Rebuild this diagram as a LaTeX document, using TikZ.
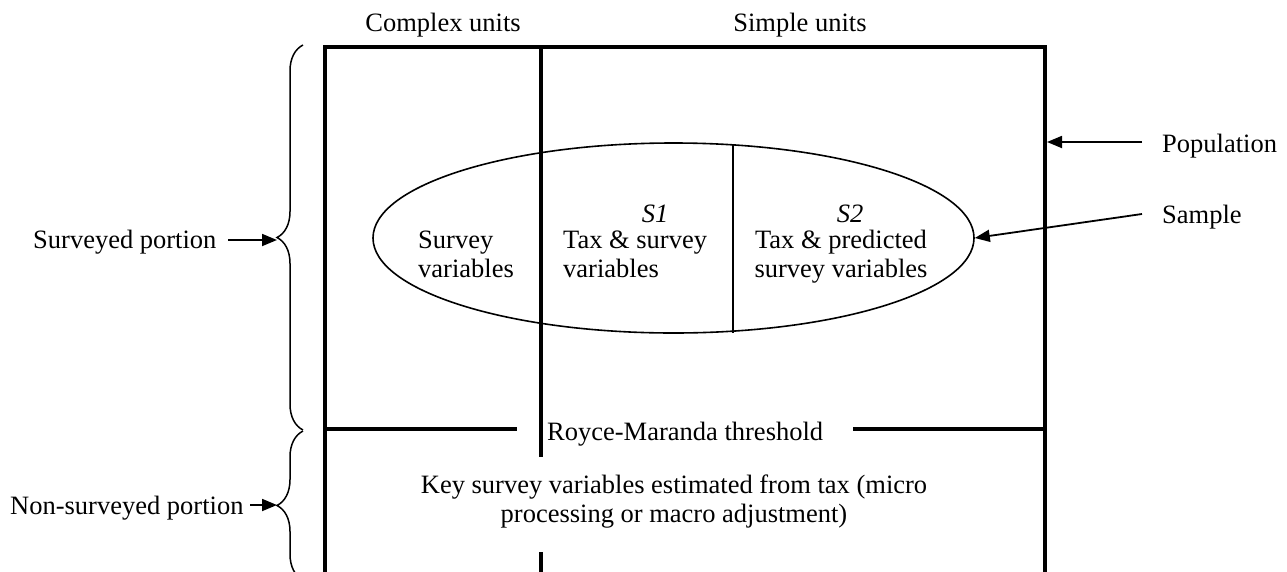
\documentclass[tikz,border=0pt]{standalone}
\usepackage{fontspec}
\setmainfont{Liberation Serif}
\usetikzlibrary{decorations.pathreplacing,arrows.meta,shapes.geometric}
\begin{document}
\begin{tikzpicture}[x=1pt,y=-1pt,
  lbl/.style={inner sep=0pt, font=\fontsize{26.5}{29}\selectfont},
  frameline/.style={line width=4pt},
  arr/.style={line width=1.8pt,-{Triangle[length=15pt,width=12pt]}},
  br/.style={line width=1.5pt, decorate, decoration={brace,amplitude=26pt}},
  samplebox/.style={draw, ellipse, line width=1.6pt, inner sep=0pt,
    minimum width=601pt, minimum height=190pt}]
\useasboundingbox (0,0) rectangle (1287,571);
\clip (0,0) rectangle (1287,571);

% frame
\draw[frameline] (325,600) -- (325,47) -- (1045,47) -- (1045,600);
\draw[frameline] (541,47) -- (541,457);
\draw[frameline] (541,552) -- (541,600);
\draw[frameline] (325,429) -- (517,429);
\draw[frameline] (853,429) -- (1045,429);

% sample ellipse
\node[samplebox] (samp) at (673.5,238) {};
\draw[line width=1.3pt] (733,144) -- (733,333);

% headers
\node[lbl, anchor=base] (cx) at (443,31) {Complex units};
\node[lbl, anchor=base] (sx) at (800,31) {Simple units};

% ellipse texts (base anchor = baseline of last line)
\node[lbl, anchor=base west, align=left] (sv) at (418,277) {Survey\\variables};
\node[lbl, anchor=base] (s1) at (655,222) {\itshape S1};
\node[lbl, anchor=base west, align=left] (ts) at (563,277) {Tax \& survey\\variables};
\node[lbl, anchor=base] (s2) at (850,222) {\itshape S2};
\node[lbl, anchor=base, align=center] (tp) at (841,277) {Tax \& predicted\\survey variables};

% threshold and bottom text
\node[lbl, anchor=base west] (rm) at (547,440) {Royce-Maranda threshold};
\node[lbl, anchor=base, align=center] (key) at (674,522) {Key survey variables estimated from tax (micro\\processing or macro adjustment)};

% right labels
\node[lbl, anchor=base west] (pop) at (1162,152) {Population};
\node[lbl, anchor=base west] (smp) at (1162,223) {Sample};
\coordinate (popt) at (1142,142);
\coordinate (popf) at (1047,142);
\coordinate (smpt) at (1142,214);
\draw[arr] (popt) -- (popf);
\draw[arr] (smpt) -- (samp.east);

% braces
\draw[br] (303,430) -- (303,45);
\draw[br] (303,580) -- (303,431);
\coordinate (b1) at (277,240);
\coordinate (b2) at (277,505);

% left labels
\node[lbl, anchor=base west] (surv) at (33,248) {Surveyed portion};
\node[lbl, anchor=base west] (nsurv) at (10,514) {Non-surveyed portion};
\coordinate (survt) at (228,240);
\coordinate (nsurvt) at (250,505);
\draw[arr] (survt) -- (b1);
\draw[arr] (nsurvt) -- (b2);
\end{tikzpicture}
\end{document}
